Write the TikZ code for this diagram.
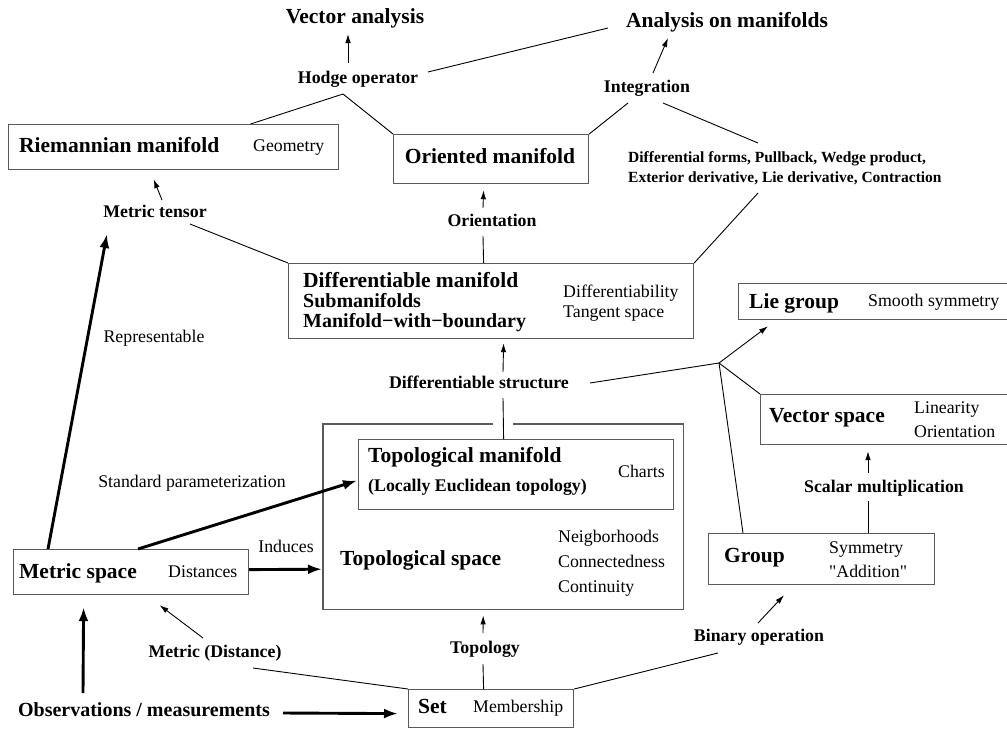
\documentclass[tikz,border=0pt]{standalone}
\usepackage{fontspec}
\setmainfont{Liberation Serif}
\newfontfamily\straightq{Liberation Serif}[Ligatures=TeXOff]
\usetikzlibrary{arrows.meta,calc}
\begin{document}
\begin{tikzpicture}[x=1pt,y=-1pt,
  boxline/.style={draw=black!65, line width=1.2pt},
  boxnode/.style={boxline, anchor=north west, inner sep=0pt},
  title/.style={font=\fontsize{21.5}{24}\selectfont\bfseries, inner sep=0pt, text height=15pt, text depth=5pt},
  subt/.style={font=\fontsize{20}{22}\selectfont\bfseries, inner sep=0pt, text height=14pt, text depth=5pt},
  lbl/.style={font=\fontsize{17.8}{20}\selectfont\bfseries, inner sep=0pt, text height=12pt, text depth=4pt},
  note/.style={font=\fontsize{17.8}{20}\selectfont, inner sep=0pt, text height=12pt, text depth=4pt},
  forms/.style={font=\fontsize{15.5}{18}\selectfont\bfseries, inner sep=0pt, text height=11pt, text depth=3.5pt, anchor=west},
  conn/.style={line width=0.9pt},
  tarr/.style={conn, -{Latex[length=9pt,width=5.5pt]}},
  karr/.style={line width=2.9pt, -{Latex[length=14pt,width=10pt]}},
]
\useasboundingbox (0,0) rectangle (1007,729);

% ---------- boxes ----------
\node[boxnode, minimum width=330pt, minimum height=45pt] (riem) at (8,124) {};
\node[boxnode, minimum width=195pt, minimum height=49pt] (orient) at (393,134) {};
\node[boxnode, minimum width=405pt, minimum height=75pt] (diffm) at (288,263) {};
\node[boxnode, minimum width=280pt, minimum height=36pt] (lie) at (738,283) {};
\node[boxnode, minimum width=260pt, minimum height=50pt] (vec) at (760,394) {};
\node[anchor=north west, inner sep=0pt, minimum width=360pt, minimum height=185pt] (tops) at (323,424) {};
\draw[boxline] ($(tops.north west)+(170,0)$) -| (tops.south west) -| (tops.north east) -- ($(tops.north west)+(190,0)$);
\node[boxnode, minimum width=315pt, minimum height=70pt] (topm) at (358,439) {};
\node[boxnode, minimum width=235pt, minimum height=45pt] (metric) at (13,549) {};
\node[boxnode, minimum width=226pt, minimum height=51pt] (group) at (708,533) {};
\node[boxnode, minimum width=165pt, minimum height=38pt] (set) at (408,689) {};

% ---------- texts in boxes ----------
\node[title, anchor=west] (riemt) at (19,147) {Riemannian manifold};
\node[note, anchor=west] (riemn) at (253,147) {Geometry};
\node[title] (orientt) at (490,158) {Oriented manifold};
\node[title, anchor=west] (diffmt) at (303,282) {Differentiable manifold};
\node[subt, anchor=west] (diffms) at (303,303) {Submanifolds};
\node[subt, anchor=west] (diffmb) at (303,323) {Manifold−with−boundary};
\node[note, anchor=west] (diffmn1) at (563,293) {Differentiability};
\node[note, anchor=west] (diffmn2) at (563,313) {Tangent space};
\node[title, anchor=west] (liet) at (749,303) {Lie group};
\node[note, anchor=west] (lien) at (868,302) {Smooth symmetry};
\node[title, anchor=west] (vect) at (769,417) {Vector space};
\node[note, anchor=west] (vecn1) at (914,409) {Linearity};
\node[note, anchor=west] (vecn2) at (914,433) {Orientation};
\node[title, anchor=west] (topmt) at (368,457) {Topological manifold};
\node[lbl, anchor=west] (topms) at (368,487) {(Locally Euclidean topology)};
\node[note, anchor=west] (topmn) at (618,473) {Charts};
\node[title, anchor=west] (topst) at (340,560) {Topological space};
\node[note, anchor=west] (topsn1) at (558,538) {Neigborhoods};
\node[note, anchor=west] (topsn2) at (558,563) {Connectedness};
\node[note, anchor=west] (topsn3) at (558,588) {Continuity};
\node[title, anchor=west] (metrict) at (19,573) {Metric space};
\node[note, anchor=west] (metricn) at (168,573) {Distances};
\node[title, anchor=west] (groupt) at (724,557) {Group};
\node[note, anchor=west] (groupn1) at (829,549) {Symmetry};
\node[note, anchor=west] (groupn2) at (829,573) {\straightq "Addition"};
\node[title, anchor=west] (sett) at (418,708) {Set};
\node[note, anchor=west] (setn) at (473,708) {Membership};

% ---------- free labels ----------
\node[title] (vecan) at (355,18) {Vector analysis};
\node[title] (anomani) at (727,22) {Analysis on manifolds};
\node[lbl] (hodge) at (358,79) {Hodge operator};
\node[lbl] (integ) at (647,88) {Integration};
\node[forms] (forms1) at (628,159) {Differential forms, Pullback, Wedge product,};
\node[forms] (forms2) at (628,179) {Exterior derivative, Lie derivative, Contraction};
\node[lbl] (orientation) at (492,222) {Orientation};
\node[lbl] (mtensor) at (155,213) {Metric tensor};
\node[note] (repr) at (154,338) {Representable};
\node[lbl] (diffstr) at (479,384) {Differentiable structure};
\node[lbl] (scalar) at (884,488) {Scalar multiplication};
\node[note] (stdparam) at (192,483) {Standard parameterization};
\node[note] (induces) at (286,548) {Induces};
\node[lbl] (binop) at (759,637) {Binary operation};
\node[lbl] (topology) at (485,649) {Topology};
\node[lbl] (metricd) at (215,653) {Metric (Distance)};
\node[subt] (obs) at (144,712) {Observations / measurements};
\coordinate (J) at (719,363);

% ---------- connectors ----------
\draw[tarr] ($(hodge)+(-10,-16)$) -- ($(vecan)+(-7,16)$);
\draw[conn] ($(hodge)+(70,-7)$) -- ($(anomani)+(-119,6)$);
\draw[conn] ($(hodge)+(-15,15)$) -- ($(riem.north)+(77,0)$);
\draw[conn] ($(hodge)+(-15,15)$) -- (orient.north west);
\draw[tarr] ($(integ)+(6,-15)$) -- ($(anomani)+(-59,16)$);
\draw[conn] ($(integ)+(-19,15)$) -- (orient.north east);
\draw[conn] ($(integ)+(16,15)$) -- ($(forms1.west)+(130,-16)$);
\draw[conn] ($(forms2.west)+(130,14)$) -- (diffm.north east);
\draw[tarr] ($(orientation)+(-9,-14)$) -- ($(orient.south)+(-7.5,6)$);
\draw[conn] ($(orientation)+(-9,14)$) -- ($(diffm.north)+(-7.5,0)$);
\draw[tarr] ($(mtensor)+(7,-13)$) -- ($(riem.south)+(-20,9)$);
\draw[conn] ($(mtensor)+(35,11)$) -- (diffm.north west);
\draw[tarr] ($(diffstr)+(24,-12)$) -- ($(diffm.south)+(12.5,4)$);
\draw[conn] ($(diffstr)+(24,14)$) -- ($(topm.north)+(-12.5,0)$);
\draw[conn] ($(diffstr)+(111,-1)$) -- (J);
\draw[tarr] (J) -- ($(lie.south west)+(30,6)$);
\draw[conn] (J) -- (vec.north west);
\draw[conn] (J) -- ($(group.north west)+(35,0)$);
\draw[tarr] ($(scalar)+(-16,-15)$) -- ($(vec.south west)+(108,6)$);
\draw[conn] ($(scalar)+(-16,13)$) -- ($(group.north west)+(160,0)$);
\draw[tarr] ($(binop)+(-1,-14)$) -- ($(group.south west)+(76,10)$);
\draw[conn] ($(binop)+(-41,16)$) -- (set.north east);
\draw[tarr] ($(topology)+(-2,-16)$) -- ($(tops.south)+(-20,6)$);
\draw[conn] ($(topology)+(-2,15)$) -- ($(set.north)+(-7.5,0)$);
\draw[tarr] ($(metricd)+(-12,-15)$) -- ($(metric.south)+(28.5,10)$);
\draw[conn] ($(metricd)+(38,15)$) -- (set.north west);
\draw[karr] ($(obs)+(-61,-19)$) -- ($(metric.south)+(-47.5,12)$);
\draw[karr] ($(obs)+(139,1)$) -- ($(set.west)+(-10,5)$);
\draw[karr] ($(metric.north west)+(35,0)$) -- ($(mtensor)+(-48,21)$);
\draw[karr] ($(metric.north west)+(125,0)$) -- ($(topm.west)+(-1,6)$);
\draw[karr] ($(metric.east)+(0,-2.5)$) -- ($(tops.west)+(-1,52.5)$);
\end{tikzpicture}
\end{document}
